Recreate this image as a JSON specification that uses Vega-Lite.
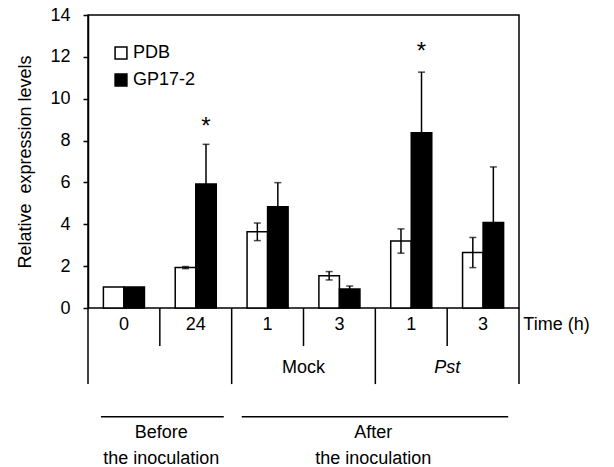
{
  "$schema": "https://vega.github.io/schema/vega-lite/v6.json",
  "padding": {"left": 16, "top": 5, "right": 5, "bottom": 0},
  "bounds": "flush",
  "spacing": 0,
  "config": {
    "font": "Liberation Sans",
    "view": {"stroke": "black", "strokeWidth": 1.5},
    "concat": {"spacing": 0}
  },
  "datasets": {
    "bars": [
      {"grp": "0 h", "series": "PDB", "value": 1.0, "lo": null, "hi": null},
      {"grp": "0 h", "series": "GP17-2", "value": 1.0, "lo": null, "hi": null},
      {"grp": "24 h", "series": "PDB", "value": 1.93, "lo": 1.88, "hi": 1.98},
      {"grp": "24 h", "series": "GP17-2", "value": 5.92, "lo": 4.02, "hi": 7.82},
      {"grp": "Mock 1 h", "series": "PDB", "value": 3.64, "lo": 3.22, "hi": 4.06},
      {"grp": "Mock 1 h", "series": "GP17-2", "value": 4.84, "lo": 3.69, "hi": 5.99},
      {"grp": "Mock 3 h", "series": "PDB", "value": 1.54, "lo": 1.34, "hi": 1.74},
      {"grp": "Mock 3 h", "series": "GP17-2", "value": 0.91, "lo": 0.77, "hi": 1.05},
      {"grp": "Pst 1 h", "series": "PDB", "value": 3.2, "lo": 2.62, "hi": 3.78},
      {"grp": "Pst 1 h", "series": "GP17-2", "value": 8.37, "lo": 5.47, "hi": 11.27},
      {"grp": "Pst 3 h", "series": "PDB", "value": 2.65, "lo": 1.93, "hi": 3.37},
      {"grp": "Pst 3 h", "series": "GP17-2", "value": 4.09, "lo": 1.44, "hi": 6.74}
    ],
    "stars": [
      {"grp": "24 h", "series": "GP17-2", "y": 8.65},
      {"grp": "Pst 1 h", "series": "GP17-2", "y": 12.25}
    ],
    "vlines": [
      {"c": 0, "r0": 0, "r1": 2},
      {"c": 1, "r0": 0, "r1": 1},
      {"c": 2, "r0": 0, "r1": 2},
      {"c": 3, "r0": 0, "r1": 1},
      {"c": 4, "r0": 0, "r1": 2},
      {"c": 5, "r0": 0, "r1": 1},
      {"c": 6, "r0": 0, "r1": 2}
    ],
    "hlines": [
      {"c0": 0.18, "c1": 1.89, "r": 2.86},
      {"c0": 2.14, "c1": 5.85, "r": 2.86}
    ],
    "labels": [
      {"c": 0.5, "r": 0.45, "label": "0", "kind": "center"},
      {"c": 1.5, "r": 0.45, "label": "24", "kind": "center"},
      {"c": 2.5, "r": 0.45, "label": "1", "kind": "center"},
      {"c": 3.5, "r": 0.45, "label": "3", "kind": "center"},
      {"c": 4.5, "r": 0.45, "label": "1", "kind": "center"},
      {"c": 5.5, "r": 0.45, "label": "3", "kind": "center"},
      {"c": 3.0, "r": 1.58, "label": "Mock", "kind": "center"},
      {"c": 5.0, "r": 1.58, "label": "Pst", "kind": "italic"},
      {"c": 6.06, "r": 0.45, "label": "Time (h)", "kind": "left"},
      {"c": 1.02, "r": 3.29, "label": "Before", "kind": "center"},
      {"c": 1.02, "r": 3.98, "label": "the inoculation", "kind": "center"},
      {"c": 3.97, "r": 3.29, "label": "After", "kind": "center"},
      {"c": 3.97, "r": 3.98, "label": "the inoculation", "kind": "center"}
    ]
  },
  "vconcat": [
    {
      "width": 431,
      "height": 293,
      "layer": [
        {
          "data": {"name": "bars"},
          "mark": {"type": "bar", "stroke": "black", "strokeWidth": 1.5},
          "encoding": {
            "x": {"field": "grp", "type": "nominal", "scale": {"domain": ["0 h", "24 h", "Mock 1 h", "Mock 3 h", "Pst 1 h", "Pst 3 h"], "paddingInner": 0, "paddingOuter": 0}, "axis": null},
            "xOffset": {"field": "series", "type": "nominal", "scale": {"domain": ["PDB", "GP17-2"], "paddingInner": 0, "paddingOuter": 0.75}},
            "y": {
              "field": "value", "type": "quantitative",
              "scale": {"domain": [0, 14], "nice": false},
              "axis": {
                "title": "Relative\u00a0 expression levels",
                "titleFontSize": 18, "titleFontWeight": "normal", "titleColor": "black", "titlePadding": 15,
                "labelFontSize": 18, "labelColor": "black", "labelPadding": 13,
                "tickSize": 5, "tickColor": "black", "tickWidth": 1.5,
                "domainColor": "black", "domainWidth": 1.5,
                "values": [0, 2, 4, 6, 8, 10, 12, 14], "grid": false
              }
            },
            "fill": {
              "field": "series", "type": "nominal",
              "scale": {"domain": ["PDB", "GP17-2"], "range": ["white", "black"]},
              "legend": {
                "title": null, "orient": "none", "legendX": 24, "legendY": 29, "padding": 0,
                "symbolType": "square", "symbolSize": 140, "symbolStrokeColor": "black", "symbolStrokeWidth": 1.5,
                "labelFontSize": 18, "labelColor": "black", "labelOffset": 3, "rowPadding": 9
              }
            }
          }
        },
        {
          "data": {"name": "bars"},
          "transform": [{"filter": "datum.lo != null"}],
          "mark": {"type": "rule", "color": "black", "strokeWidth": 1.5},
          "encoding": {
            "x": {"field": "grp", "type": "nominal"},
            "xOffset": {"field": "series", "type": "nominal"},
            "y": {"field": "lo", "type": "quantitative"},
            "y2": {"field": "hi"}
          }
        },
        {
          "data": {"name": "bars"},
          "transform": [{"filter": "datum.lo != null"}],
          "mark": {"type": "tick", "color": "black", "size": 7, "thickness": 1.5},
          "encoding": {
            "x": {"field": "grp", "type": "nominal"},
            "xOffset": {"field": "series", "type": "nominal"},
            "y": {"field": "hi", "type": "quantitative"}
          }
        },
        {
          "data": {"name": "bars"},
          "transform": [{"filter": "datum.lo != null"}],
          "mark": {"type": "tick", "color": "black", "size": 7, "thickness": 1.5},
          "encoding": {
            "x": {"field": "grp", "type": "nominal"},
            "xOffset": {"field": "series", "type": "nominal"},
            "y": {"field": "lo", "type": "quantitative"}
          }
        },
        {
          "data": {"name": "stars"},
          "mark": {"type": "text", "text": "*", "fontSize": 24, "color": "black", "baseline": "middle", "align": "center"},
          "encoding": {
            "x": {"field": "grp", "type": "nominal"},
            "xOffset": {"field": "series", "type": "nominal"},
            "y": {"field": "y", "type": "quantitative"}
          }
        }
      ]
    },
    {
      "width": 431,
      "height": 159,
      "view": {"stroke": null},
      "layer": [
        {
          "data": {"name": "vlines"},
          "mark": {"type": "rule", "color": "black", "strokeWidth": 1.5},
          "encoding": {
            "x": {"field": "c", "type": "quantitative", "scale": {"domain": [0, 6], "nice": false}, "axis": null},
            "y": {"field": "r0", "type": "quantitative", "scale": {"domain": [0, 4.18], "nice": false, "zero": false, "reverse": true}, "axis": null},
            "y2": {"field": "r1"}
          }
        },
        {
          "data": {"name": "hlines"},
          "mark": {"type": "rule", "color": "black", "strokeWidth": 1.5},
          "encoding": {
            "x": {"field": "c0", "type": "quantitative"},
            "x2": {"field": "c1"},
            "y": {"field": "r", "type": "quantitative"}
          }
        },
        {
          "data": {"name": "labels"},
          "transform": [{"filter": "datum.kind == 'center'"}],
          "mark": {"type": "text", "fontSize": 18, "color": "black", "align": "center", "baseline": "middle"},
          "encoding": {
            "x": {"field": "c", "type": "quantitative"},
            "y": {"field": "r", "type": "quantitative"},
            "text": {"field": "label"}
          }
        },
        {
          "data": {"name": "labels"},
          "transform": [{"filter": "datum.kind == 'italic'"}],
          "mark": {"type": "text", "fontSize": 18, "fontStyle": "italic", "color": "black", "align": "center", "baseline": "middle"},
          "encoding": {
            "x": {"field": "c", "type": "quantitative"},
            "y": {"field": "r", "type": "quantitative"},
            "text": {"field": "label"}
          }
        },
        {
          "data": {"name": "labels"},
          "transform": [{"filter": "datum.kind == 'left'"}],
          "mark": {"type": "text", "fontSize": 18, "color": "black", "align": "left", "baseline": "middle"},
          "encoding": {
            "x": {"field": "c", "type": "quantitative"},
            "y": {"field": "r", "type": "quantitative"},
            "text": {"field": "label"}
          }
        }
      ]
    }
  ]
}
